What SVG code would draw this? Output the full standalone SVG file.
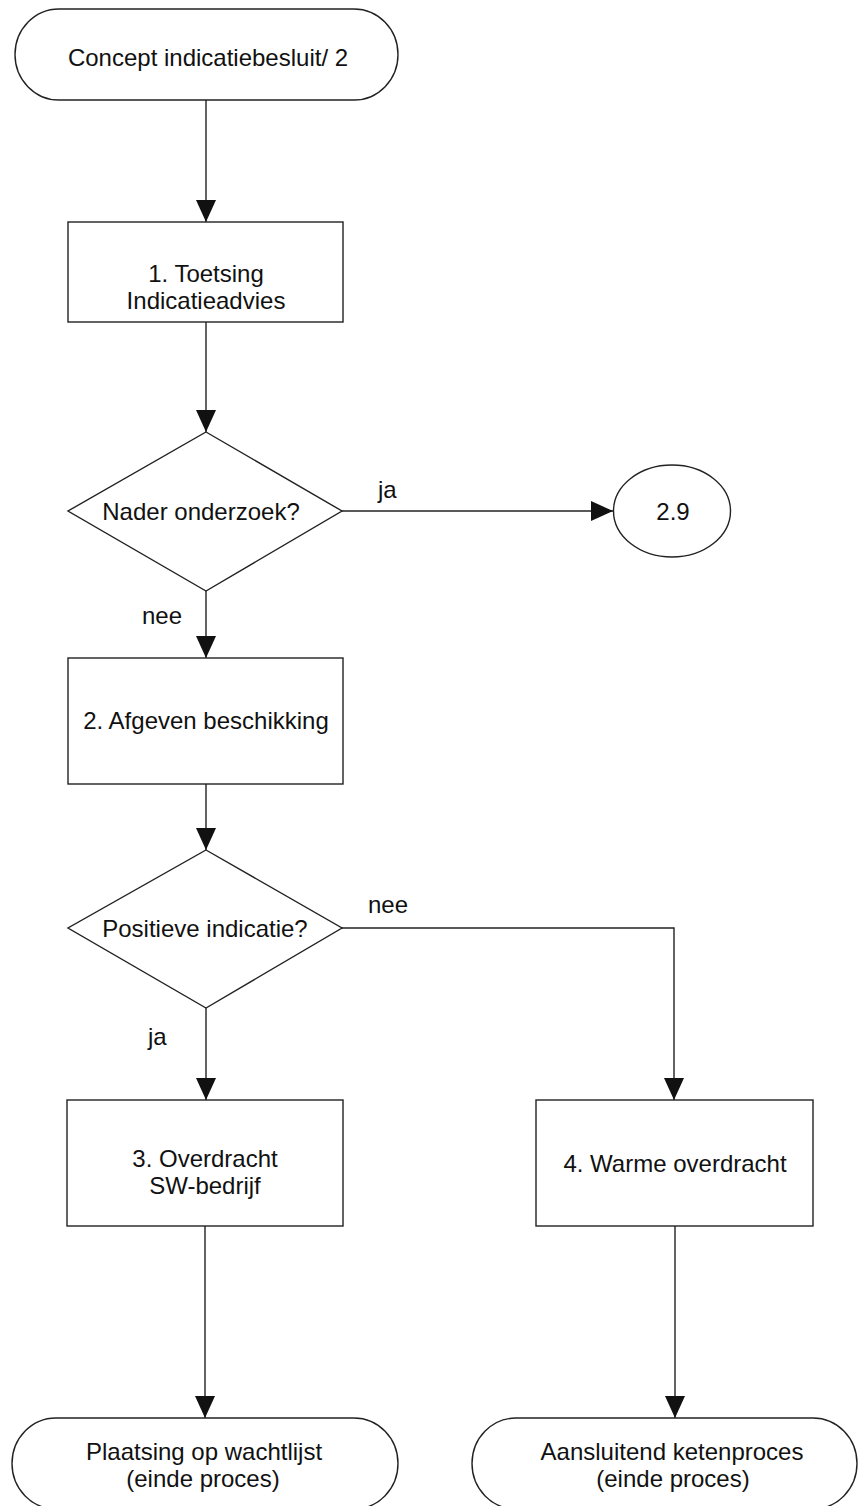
<svg xmlns="http://www.w3.org/2000/svg" width="861" height="1506" viewBox="0 0 861 1506">
  <style>
    .shape { fill: #ffffff; stroke: #222222; stroke-width: 1.4; }
    .wire { fill: none; stroke: #222222; stroke-width: 1.4; }
    .lbl { font-family: "Liberation Sans", Arial, sans-serif; font-size: 24px; fill: #111111; }
    .mid { text-anchor: middle; }
  </style>
  <defs>
    <marker id="arrow" viewBox="0 0 22 20" refX="22" refY="10" markerWidth="22" markerHeight="20" markerUnits="userSpaceOnUse" orient="auto">
      <path d="M0,0 L22,10 L0,20 Z" fill="#111111"/>
    </marker>
  </defs>

  <rect width="861" height="1506" fill="#ffffff"/>

  <!-- connectors -->
  <g id="connectors">
    <line class="wire" x1="206" y1="100" x2="206" y2="222" marker-end="url(#arrow)"/>
    <line class="wire" x1="206" y1="322" x2="206" y2="432" marker-end="url(#arrow)"/>
    <line class="wire" x1="342" y1="511" x2="613" y2="511" marker-end="url(#arrow)"/>
    <line class="wire" x1="206" y1="591" x2="206" y2="658" marker-end="url(#arrow)"/>
    <line class="wire" x1="206" y1="784" x2="206" y2="850" marker-end="url(#arrow)"/>
    <polyline class="wire" points="342,928 674,928 674,1100" marker-end="url(#arrow)"/>
    <line class="wire" x1="206" y1="1008" x2="206" y2="1100" marker-end="url(#arrow)"/>
    <line class="wire" x1="205" y1="1226" x2="205" y2="1418" marker-end="url(#arrow)"/>
    <line class="wire" x1="675" y1="1226" x2="675" y2="1418" marker-end="url(#arrow)"/>
    <text class="lbl" x="378" y="498">ja</text>
    <text class="lbl" x="142" y="624">nee</text>
    <text class="lbl" x="368" y="913">nee</text>
    <text class="lbl" x="148" y="1045">ja</text>
  </g>

  <g id="start">
    <rect class="shape" x="15" y="9" width="383" height="91" rx="44" ry="45.5"/>
    <text class="lbl mid" x="208" y="66">Concept indicatiebesluit/ 2</text>
  </g>

  <g id="toetsing">
    <rect class="shape" x="68" y="222" width="275" height="100"/>
    <text class="lbl mid" x="206" y="282">1. Toetsing</text>
    <text class="lbl mid" x="206" y="309">Indicatieadvies</text>
  </g>

  <g id="nader-onderzoek">
    <polygon class="shape" points="206,432 342,511 206,591 68,511"/>
    <text class="lbl mid" x="201" y="520">Nader onderzoek?</text>
  </g>

  <g id="ref-2-9">
    <ellipse class="shape" cx="672" cy="511" rx="58.5" ry="46"/>
    <text class="lbl mid" x="673" y="520">2.9</text>
  </g>

  <g id="afgeven">
    <rect class="shape" x="68" y="658" width="275" height="126"/>
    <text class="lbl mid" x="206" y="729">2. Afgeven beschikking</text>
  </g>

  <g id="positieve-indicatie">
    <polygon class="shape" points="206,850 342,928 206,1008 68,928"/>
    <text class="lbl mid" x="205" y="937">Positieve indicatie?</text>
  </g>

  <g id="overdracht-sw">
    <rect class="shape" x="67" y="1100" width="276" height="126"/>
    <text class="lbl mid" x="205" y="1167">3. Overdracht</text>
    <text class="lbl mid" x="205" y="1194">SW-bedrijf</text>
  </g>

  <g id="warme-overdracht">
    <rect class="shape" x="536" y="1100" width="277" height="126"/>
    <text class="lbl mid" x="675" y="1172">4. Warme overdracht</text>
  </g>

  <g id="end-wachtlijst">
    <rect class="shape" x="12" y="1418" width="386" height="91" rx="44" ry="45.5"/>
    <text class="lbl mid" x="204" y="1460">Plaatsing op wachtlijst</text>
    <text class="lbl mid" x="203" y="1487">(einde proces)</text>
  </g>

  <g id="end-ketenproces">
    <rect class="shape" x="472" y="1418" width="385" height="91" rx="44" ry="45.5"/>
    <text class="lbl mid" x="672" y="1460">Aansluitend ketenproces</text>
    <text class="lbl mid" x="673" y="1487">(einde proces)</text>
  </g>
</svg>
